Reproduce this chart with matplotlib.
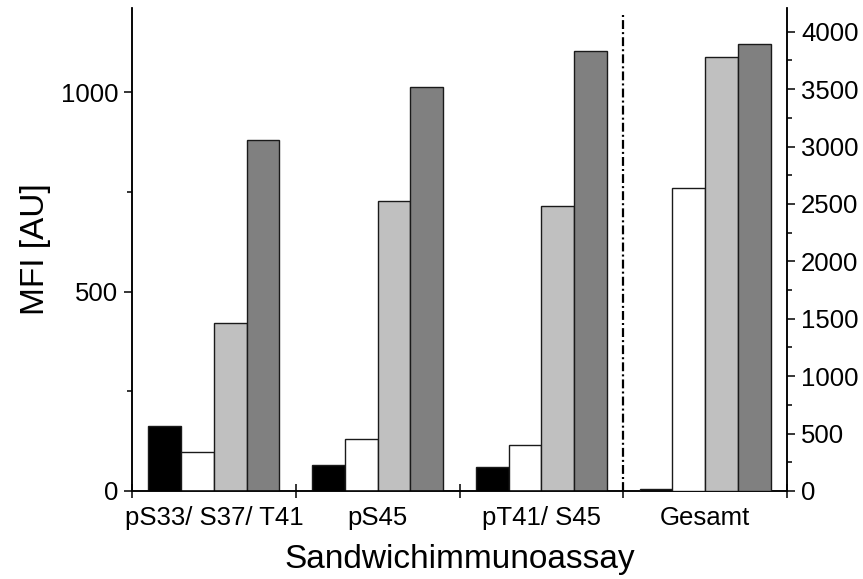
import matplotlib
matplotlib.use("Agg")
import matplotlib.pyplot as plt
import numpy as np

plt.rcParams['font.family'] = ['Liberation Sans', 'DejaVu Sans']

# Sandwich immunoassay groups (first three on left axis, total on right axis)
groups = ["pS33/ S37/ T41", "pS45", "pT41/ S45", "Gesamt"]
series_colors = ["#000000", "#ffffff", "#c0c0c0", "#808080"]

# MFI values per series for the three phospho-assays (left axis)
s1_left = [164, 64, 59]
s2_left = [99, 130, 115]
s3_left = [421, 726, 715]
s4_left = [880, 1012, 1103]

# MFI values per series for the total assay (right axis)
s1_total = 17
s2_total = 2636
s3_total = 3777
s4_total = 3890

left_series = [s1_left, s2_left, s3_left, s4_left]
total_series = [s1_total, s2_total, s3_total, s4_total]

fig = plt.figure(figsize=(8.63, 5.79), dpi=100)
ax = fig.add_axes([0.153, 0.152, 0.759, 0.834])
ax2 = ax.twinx()

width = 0.2
offsets = [-0.3, -0.1, 0.1, 0.3]
centers = np.arange(len(groups)) + 0.5

for vals, off, col in zip(left_series, offsets, series_colors):
    ax.bar(centers[:3] + off, vals, width=width, color=col,
           edgecolor="#1a1a1a", linewidth=1.0, zorder=3)
for val, off, col in zip(total_series, offsets, series_colors):
    ax2.bar(centers[3] + off, val, width=width, color=col,
            edgecolor="#1a1a1a", linewidth=1.0, zorder=3)

# separator between the phospho-assays and the total assay
ax.plot([3, 3], [0, 1196], color="black", linewidth=1.6,
        linestyle=(0, (4.0, 1.4, 0.9, 1.4)), zorder=4)

ax.set_xlim(0, 4)
ax.set_ylim(0, 1211)
ax2.set_ylim(0, 4206)

ax.set_xticks([0, 1, 2, 3, 4])
ax.set_xticklabels([])
ax.set_xticks(centers, minor=True)
ax.set_xticklabels(groups, minor=True)
ax.tick_params(axis="x", which="major", direction="inout", length=10, width=1.1)
ax.tick_params(axis="x", which="minor", length=0, labelsize=18.5, pad=11)

ax.set_yticks([0, 500, 1000])
ax.set_yticks([250, 750], minor=True)
ax.tick_params(axis="y", which="major", direction="out", length=6, width=1.1,
               labelsize=18.5, pad=4)
ax.tick_params(axis="y", which="minor", direction="out", length=3.5, width=1.1)

ax2.set_yticks(np.arange(0, 4001, 500))
ax2.set_yticks(np.arange(250, 4001, 500), minor=True)
ax2.tick_params(axis="y", which="major", direction="out", length=6, width=1.1,
                labelsize=18.5, pad=4)
ax2.tick_params(axis="y", which="minor", direction="out", length=3.5, width=1.1)

for a in (ax, ax2):
    a.spines["top"].set_visible(False)
    for s in ("left", "right", "bottom"):
        a.spines[s].set_linewidth(1.1)

ax.set_ylabel("MFI [AU]", fontsize=24, labelpad=7)
ax.set_xlabel("Sandwichimmunoassay", fontsize=24, labelpad=10)

fig.savefig("out.png", dpi=100)
